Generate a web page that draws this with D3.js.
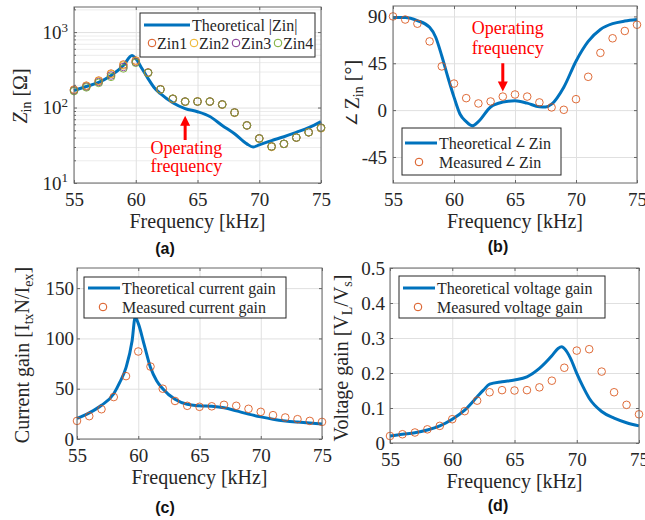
<!DOCTYPE html>
<html>
<head>
<meta charset="utf-8">
<script src="https://cdn.jsdelivr.net/npm/d3@7/dist/d3.min.js"></script>
<style>
  body { margin: 0; background: #fff; }
</style>
</head>
<body>
<svg id="fig" width="645" height="520"></svg>
<script>
// ---- data ----
const freqTicks = [55, 60, 65, 70, 75];
const freqMeas = [55,56,57,58,59,60,61,62,63,64,65,66,67,68,69,70,71,72,73,74,75];

// (a) |Zin|
const freqZinTh = [55,56,57,58,59,59.7,60,60.5,61,61.5,62,63,64,65,66,67,68,69,69.5,70,71,72,73,74,75];
const zinTheory = [168,190,215,265,360,490,445,330,242,183,153,116,97,88,76,58,45,33,30,32,36.5,41,47,54,65];
const zin1 = [173,195,228,282,372,420,292,174,131,120,120,120,110,86,58,39,30.5,33,40,47,54];
const zin2 = [171,193,225,278,362,412,290,175,130,119,121,120,109,85,58,38.5,30,33,40,47,53];
const zin3 = [168,189,218,266,345,400,290,174,130,120,120,120,110,86,58,39,30.5,33,40,47,54];
const zin4 = [165,185,212,255,330,392,288,173,131,120,120,120,110,86,58,39,30.5,33,40,47,54];
const zinNames = ['Zin1','Zin2','Zin3','Zin4'];

// (b) phase of Zin
const freqPhTh = [55,56,57,58,58.5,59,59.5,60,60.5,61,61.5,62,63,64,65,66,67,67.5,68,69,70,71,72,73,74,75];
const phaseTheory = [89,89,86,79.5,70,52,31.6,12.5,-4,-11,-15,-11,3,7.7,9,6.7,3.2,3,5.7,22,47,66,77.5,83,85.5,87];
const phaseMeas = [90,87,83,66,42,25.5,11.5,6.4,8.3,13,15,13,7.4,2.6,0.3,10.5,32,55,69,76,82];

// (c) current gain
const freqCgTh = [55,56,57,58,58.5,59,59.5,59.75,60,60.5,61,61.5,62,63,64,65,66,67,68,69,70,71,72,73,74,75];
const curTheory = [20.4,26,33.5,45,56.5,71,97.7,121,115,93,71,58,50,39.5,34.5,33,32.5,31,28,24.7,22,19.7,18,16.8,15.8,14.8];
const curMeas = [18,22.7,29.6,41.7,62.5,87,72,50,37.8,33,32,32.5,34,33,30,27,23.7,21.4,19.7,18,17];

// (d) voltage gain
const freqVgTh = [55,56,57,58,59,60,61,62,62.5,63,64,65,66,67,68,68.5,68.8,69,69.5,70,70.5,71,72,73,74,75];
const voltTheory = [0.020,0.025,0.029,0.037,0.049,0.068,0.094,0.132,0.151,0.168,0.175,0.18,0.189,0.213,0.249,0.27,0.275,0.27,0.242,0.199,0.161,0.128,0.09,0.071,0.058,0.049];
const voltMeas = [0.020,0.025,0.030,0.039,0.049,0.068,0.091,0.121,0.145,0.151,0.150,0.151,0.159,0.178,0.215,0.264,0.268,0.204,0.145,0.109,0.082];

const blue = '#0072BD';
const zinColors = ['#D95319','#EDB120','#7E2F8E','#77AC30'];
const serif = '"Liberation Serif", "Times New Roman", serif';
const ink = '#262626';

const svg = d3.select('#fig');

// plain serif text helper
function txt(g, x, y, size) {
    return g.append('text').attr('x', x).attr('y', y)
        .style('font-family', serif).style('font-size', size + 'px').style('fill', ink);
}

function panel(box, y) {
    const x = d3.scaleLinear().domain([55, 75]).range([box.l, box.r]);
    y.range([box.b, box.t]);
    return { g: svg.append('g'), x, y, box };
}

function drawGrid(p, yTicks, yMinor) {
    const { g, x, y, box } = p;
    const h = box.b - box.t, w = box.r - box.l;
    if (yMinor) {
        const gm = g.append('g').attr('transform', `translate(${box.l},0)`)
            .call(d3.axisLeft(y).tickValues(yMinor).tickSize(-w).tickFormat(''));
        gm.select('.domain').remove();
        gm.selectAll('line').attr('stroke', '#ececec');
    }
    const gx = g.append('g').attr('transform', `translate(0,${box.b})`)
        .call(d3.axisBottom(x).tickValues(freqTicks).tickSize(-h).tickFormat(''));
    const gy = g.append('g').attr('transform', `translate(${box.l},0)`)
        .call(d3.axisLeft(y).tickValues(yTicks).tickSize(-w).tickFormat(''));
    [gx, gy].forEach(s => { s.select('.domain').remove(); s.selectAll('line').attr('stroke', '#e0e0e0'); });
}

function drawFrame(p, yTicks, yFmt, yPad) {
    const { g, x, y, box } = p;
    const style = s => {
        s.select('.domain').remove();
        s.selectAll('line').attr('stroke', '#666');
        s.selectAll('text').style('font-size', '19px').style('font-family', serif).style('fill', ink);
    };
    g.append('g').attr('transform', `translate(0,${box.b})`)
        .call(d3.axisBottom(x).tickValues(freqTicks).tickSize(-3).tickPadding(10)).call(style);
    g.append('g').attr('transform', `translate(0,${box.t})`)
        .call(d3.axisTop(x).tickValues(freqTicks).tickSize(-3).tickFormat('')).call(style);
    const ya = g.append('g').attr('transform', `translate(${box.l},0)`)
        .call(d3.axisLeft(y).tickValues(yTicks).tickSize(-3).tickPadding(yPad).tickFormat(yFmt)).call(style);
    g.append('g').attr('transform', `translate(${box.r},0)`)
        .call(d3.axisRight(y).tickValues(yTicks).tickSize(-3).tickFormat('')).call(style);
    g.append('rect').attr('x', box.l).attr('y', box.t).attr('width', box.r - box.l).attr('height', box.b - box.t)
        .attr('fill', 'none').attr('stroke', '#666').attr('stroke-width', 1);
    return ya;
}

function drawLine(p, xs, ys) {
    const line = d3.line().x((d, i) => p.x(xs[i])).y(d => p.y(d)).curve(d3.curveMonotoneX);
    p.g.append('path').datum(ys).attr('d', line)
        .attr('fill', 'none').attr('stroke', blue).attr('stroke-width', 3).attr('stroke-linejoin', 'round');
}

function drawMarkers(p, xs, ys, color) {
    p.g.append('g').selectAll('circle').data(ys).join('circle')
        .attr('cx', (d, i) => p.x(xs[i])).attr('cy', d => p.y(d)).attr('r', 3.8)
        .attr('fill', 'none').attr('stroke', color).attr('stroke-width', 1).attr('stroke-opacity', 0.85);
}

function xLabel(p) {
    txt(p.g, (p.box.l + p.box.r) / 2, p.box.b + 38, 20)
        .attr('text-anchor', 'middle').attr('dominant-baseline', 'central')
        .text('Frequency [kHz]');
}

// parts: [text, 'n'|'sub'|'it'|'ang']
function yLabel(p, cx, cy, parts) {
    const t = p.g.append('text').attr('transform', `translate(${cx},${cy}) rotate(-90)`)
        .attr('text-anchor', 'middle').attr('dominant-baseline', 'central')
        .style('font-family', serif).style('font-size', '20px').style('fill', ink);
    let shifted = false;
    parts.forEach(([s, kind]) => {
        const ts = t.append('tspan').text(s);
        if (kind === 'sub') { ts.style('font-size', '14px').attr('dy', shifted ? 0 : 6); shifted = true; }
        else { if (shifted) ts.attr('dy', -6); shifted = false; }
        if (kind === 'it') ts.style('font-style', 'italic');
        if (kind === 'ang') ts.style('font-size', '15px');
    });
}

function panelTag(x, y, s) {
    svg.append('text').attr('x', x).attr('y', y).attr('text-anchor', 'middle').attr('dominant-baseline', 'central')
        .style('font-family', '"Liberation Sans", Arial, sans-serif').style('font-weight', 'bold').style('font-size', '16px')
        .style('fill', '#111').text(s);
}

function legendBox(g, l, t, w, h) {
    g.append('rect').attr('x', l).attr('y', t).attr('width', w).attr('height', h)
        .attr('fill', '#fff').attr('stroke', '#262626').attr('stroke-width', 1);
}

// label may contain an angle sign, drawn smaller like the reference
function legendText(g, x, y, label) {
    const t = txt(g, x, y, 16).attr('dominant-baseline', 'central');
    label.split('∠').forEach((s, i) => {
        if (i > 0) t.append('tspan').style('font-size', '12px').text(' ∠ ');
        t.append('tspan').text(s);
    });
}

function legendLine(g, x0, x1, y, label) {
    g.append('line').attr('x1', x0).attr('x2', x1).attr('y1', y).attr('y2', y).attr('stroke', blue).attr('stroke-width', 3);
    legendText(g, x1 + 2, y, label);
}

function legendMarker(g, cx, tx, y, label, color) {
    g.append('circle').attr('cx', cx).attr('cy', y).attr('r', 3.8).attr('fill', 'none').attr('stroke', color).attr('stroke-width', 1);
    legendText(g, tx, y, label);
}

function operating(p, fx, yA, yB) {
    const { g, x, y } = p;
    ['Operating', 'frequency'].forEach((s, i) => {
        txt(g, x(fx), y([yA, yB][i]), 18).attr('text-anchor', 'middle').style('fill', '#ff0000').text(s);
    });
}

function arrow(g, cx, tip, tail) {
    const dir = tail > tip ? 1 : -1; // 1: pointing up
    const hh = 10, hw = 5, sw = 1.5;
    const base = tip + dir * hh;
    g.append('path')
        .attr('d', `M${cx},${tip} L${cx + hw},${base} L${cx + sw},${base} L${cx + sw},${tail} L${cx - sw},${tail} L${cx - sw},${base} L${cx - hw},${base} Z`)
        .attr('fill', '#ff0000');
}

// ---------- (a) ----------
const pa = panel({ l: 74, r: 321, t: 7, b: 183 }, d3.scaleLog().domain([10, 2150]));
const minorA = [20,30,40,50,60,70,80,90,200,300,400,500,600,700,800,900,2000];
drawGrid(pa, [10, 100, 1000], minorA);
drawLine(pa, freqZinTh, zinTheory);
[zin1, zin2, zin3, zin4].forEach((s, i) => drawMarkers(pa, freqMeas, s, zinColors[i]));
const yaA = drawFrame(pa, [10, 100, 1000], d => d, 6);
yaA.selectAll('text').each(function (d) {
    const t = d3.select(this);
    t.text('10');
    t.append('tspan').attr('dy', '-0.55em').style('font-size', '13px').text(Math.round(Math.log10(d)));
});
pa.g.append('g').attr('transform', `translate(${pa.box.l},0)`)
    .call(d3.axisRight(pa.y).tickValues(minorA).tickSize(2).tickFormat(''))
    .call(s => { s.select('.domain').remove(); s.selectAll('line').attr('stroke', '#666'); });
xLabel(pa);
yLabel(pa, 20, 96, [['Z', 'it'], ['in', 'sub'], [' [Ω]', 'n']]);
legendBox(pa.g, 140, 13, 175, 44);
legendLine(pa.g, 144, 190, 25, 'Theoretical |Zin|');
[152, 194, 236, 278].forEach((cx, i) => legendMarker(pa.g, cx, cx + 5, 43, zinNames[i], zinColors[i]));
operating(pa, 64.1, 24, 13.8);
arrow(pa.g, pa.x(64), pa.y(78), pa.y(37));
panelTag(165, 248, '(a)');

// ---------- (b) ----------
const pb = panel({ l: 393, r: 637, t: 6, b: 183 }, d3.scaleLinear().domain([-70, 100]));
drawGrid(pb, [-45, 0, 45, 90]);
drawLine(pb, freqPhTh, phaseTheory);
drawMarkers(pb, freqMeas, phaseMeas, zinColors[0]);
drawFrame(pb, [-45, 0, 45, 90], d => String(d), 6);
xLabel(pb);
yLabel(pb, 352, 93, [['∠ ', 'ang'], ['Z', 'n'], ['in', 'sub'], [' [°]', 'n']]);
legendBox(pb.g, 402, 128, 159, 47);
legendLine(pb.g, 405, 437, 143, 'Theoretical∠Zin');
legendMarker(pb.g, 419, 439, 162, 'Measured∠Zin', zinColors[0]);
operating(pb, 64.4, 73, 54);
arrow(pb.g, pb.x(64), pb.y(18), pb.y(45));
panelTag(498, 246, '(b)');

// ---------- (c) ----------
const pc = panel({ l: 77, r: 322, t: 268, b: 439 }, d3.scaleLinear().domain([0, 170]));
drawGrid(pc, [0, 50, 100, 150]);
drawLine(pc, freqCgTh, curTheory);
drawMarkers(pc, freqMeas, curMeas, zinColors[0]);
drawFrame(pc, [0, 50, 100, 150], d => String(d), 3);
xLabel(pc);
yLabel(pc, 22, 355, [['Current gain [I', 'n'], ['tx', 'sub'], ['N/I', 'n'], ['ex', 'sub'], [']', 'n']]);
legendBox(pc.g, 84, 277, 202, 41);
legendLine(pc.g, 88, 120, 288, 'Theoretical current gain');
legendMarker(pc.g, 103, 122, 307, 'Measured current gain', zinColors[0]);
panelTag(165, 507, '(c)');

// ---------- (d) ----------
const pd = panel({ l: 390, r: 639, t: 268, b: 443 }, d3.scaleLinear().domain([0, 0.5]));
drawGrid(pd, [0, 0.1, 0.2, 0.3, 0.4, 0.5]);
drawLine(pd, freqVgTh, voltTheory);
drawMarkers(pd, freqMeas, voltMeas, zinColors[0]);
drawFrame(pd, [0, 0.1, 0.2, 0.3, 0.4, 0.5], d => String(d), 5);
xLabel(pd);
yLabel(pd, 341, 358, [['Voltage gain [V', 'n'], ['L', 'sub'], ['/V', 'n'], ['s', 'sub'], [']', 'n']]);
legendBox(pd.g, 399, 276, 206, 42);
legendLine(pd.g, 403, 435, 288, 'Theoretical voltage gain');
legendMarker(pd.g, 418, 437, 307, 'Measured voltage gain', zinColors[0]);
panelTag(498, 505, '(d)');
</script>
</body>
</html>
